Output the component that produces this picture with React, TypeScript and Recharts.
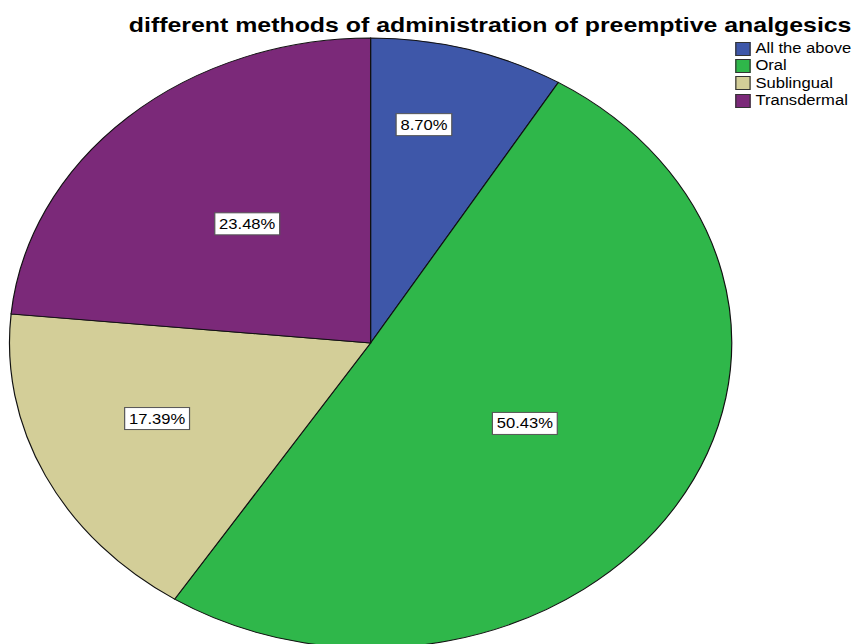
import { PieChart, Pie, Cell, Legend } from 'recharts';

const methods = ['All the above', 'Oral', 'Sublingual', 'Transdermal'];
const percents = [8.7, 50.43, 17.39, 23.48];

const sliceColors = ['#3e57a9', '#2fb74a', '#d3ce98', '#7b2979'];
// where each percentage box sits: fraction of radius, and a small nudge off the mid angle (deg)
const labelRadius = [0.731, 0.502, 0.641, 0.519];
const labelNudge = [4, 0.4, -3.1, -1.1];

const data = methods.map((name, i) => ({ name, value: percents[i] }));

// the exported image is stretched sideways, so the chart is drawn round and scaled
const STRETCH = 1.184;
const W = 855 / STRETCH;
const H = 644;
const RADIAN = Math.PI / 180;
const FONT = '"Liberation Sans", Arial, sans-serif';

const renderLabel = (props: any) => {
  const { cx, cy, midAngle, outerRadius, index, value } = props;
  const r = outerRadius * labelRadius[index];
  const a = (midAngle + labelNudge[index]) * RADIAN;
  const x = cx + r * Math.cos(-a);
  const y = cy + r * Math.sin(-a);
  const text = `${Number(value).toFixed(2)}%`;
  const w = text.length * 7.8 + 8;
  return (
    <g>
      <rect x={x - w / 2} y={y - 11} width={w} height={22} fill="#fff" stroke="#555" strokeWidth={1} />
      <text x={x} y={y + 5} textAnchor="middle" fontFamily={FONT} fontSize={14} fill="#000">
        {text}
      </text>
    </g>
  );
};

const renderLegend = () => (
  <div style={{ fontFamily: FONT, fontSize: 14, color: '#000' }}>
    {methods.map((m, i) => (
      <div key={m} style={{ display: 'flex', alignItems: 'center', height: 17.3 }}>
        <span
          style={{
            display: 'inline-block',
            width: 11,
            height: 12,
            background: sliceColors[i],
            border: '1px solid #333',
            marginRight: 4,
          }}
        />
        <span style={{ lineHeight: '17px' }}>{m}</span>
      </div>
    ))}
  </div>
);

export default function App() {
  return (
    <div style={{ position: 'absolute', left: 0, top: 0, width: 855, height: H, overflow: 'hidden', background: '#fff' }}>
      <div style={{ position: 'relative', width: W, height: H, transform: `scaleX(${STRETCH})`, transformOrigin: '0 0' }}>
        <div
          style={{
            position: 'absolute',
            left: 414 - 320,
            width: 640,
            top: 13,
            textAlign: 'center',
            fontFamily: FONT,
            fontWeight: 'bold',
            fontSize: 21,
            lineHeight: '24px',
            whiteSpace: 'nowrap',
          }}
        >
          different methods of administration of preemptive analgesics
        </div>
        <PieChart width={W} height={H} margin={{ top: 0, right: 0, bottom: 0, left: 0 }}>
          <Pie
            data={data}
            dataKey="value"
            nameKey="name"
            cx={313}
            cy={343}
            outerRadius={305}
            startAngle={90}
            endAngle={-270}
            stroke="#111"
            strokeWidth={1}
            label={renderLabel}
            labelLine={false}
            isAnimationActive={false}
          >
            {data.map((d, i) => (
              <Cell key={d.name} fill={sliceColors[i]} />
            ))}
          </Pie>
          <Legend
            content={renderLegend}
            layout="vertical"
            wrapperStyle={{ position: 'absolute', top: 40, left: 621, width: 110 }}
          />
        </PieChart>
      </div>
    </div>
  );
}
